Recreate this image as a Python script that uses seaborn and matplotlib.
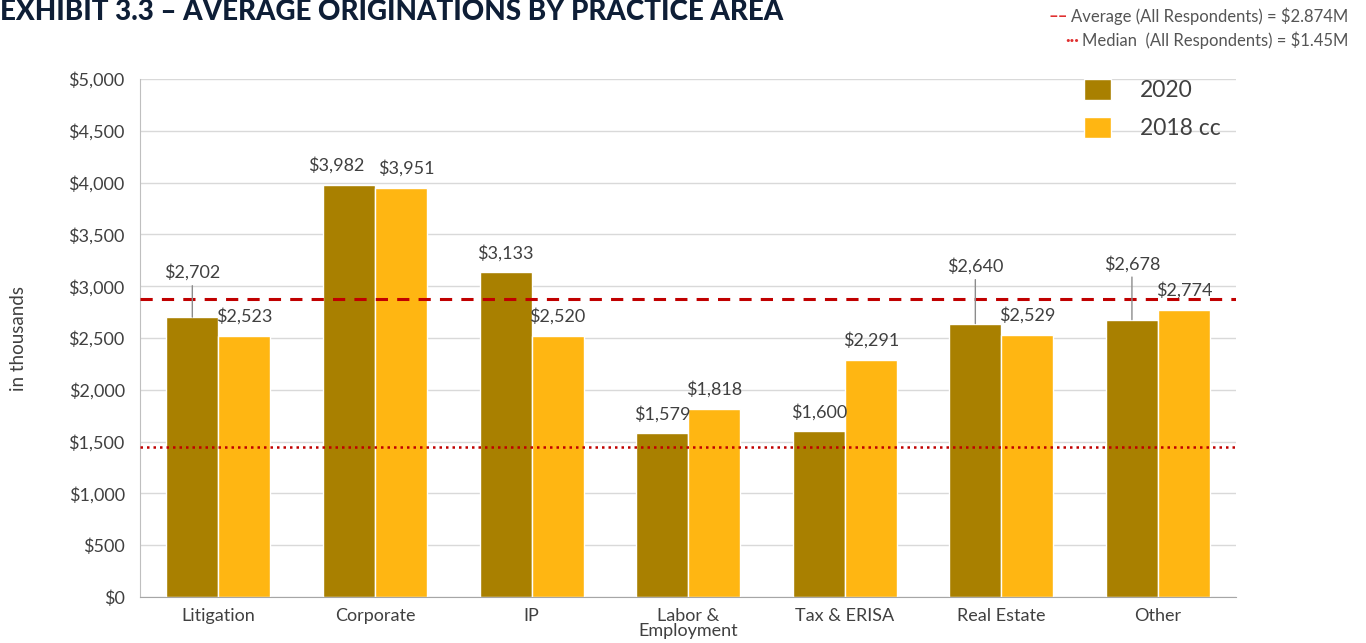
import pandas as pd
import matplotlib.pyplot as plt
import seaborn as sns

# data
areas = ["Litigation", "Corporate", "IP", "Labor &\nEmployment", "Tax & ERISA", "Real Estate", "Other"]
vals_2020 = [2702, 3982, 3133, 1579, 1600, 2640, 2678]
vals_2018 = [2523, 3951, 2520, 1818, 2291, 2529, 2774]
years = ["2020", "2018 cc"]
avg_all = 2874
median_all = 1450
yticks = [0, 500, 1000, 1500, 2000, 2500, 3000, 3500, 4000, 4500, 5000]

# label nudges (series, index) -> (dx, dy) in points; raised ones get a leader line
nudges = {(0, 0): (0, 26), (0, 5): (0, 35), (0, 6): (0, 34),
          (0, 1): (-9, 8), (1, 1): (4, 8)}
leaders = {(0, 0), (0, 5), (0, 6)}

df = pd.DataFrame({
    "area": areas * 2,
    "value": vals_2020 + vals_2018,
    "year": [years[0]] * len(areas) + [years[1]] * len(areas),
})

sns.set_style("white")
plt.rcParams["font.family"] = ["Lato", "DejaVu Sans"]

txt = "#404040"
red = "#C00000"
fig = plt.figure(figsize=(13.66, 6.43), dpi=100)
ax = fig.add_axes([0.1025, 0.0715, 0.8025, 0.8055])

sns.barplot(data=df, x="area", y="value", hue="year", hue_order=years,
            palette=["#A98000", "#FFB612"], saturation=1, width=0.664,
            ax=ax, legend=True)

ax.set_ylim(0, 5000)
ax.set_xlim(-0.5, len(areas) - 0.5)
ax.set_yticks(yticks)
ax.set_yticklabels([f"${v:,}" for v in yticks], fontsize=13, color=txt)
ax.set_xticks(range(len(areas)))
ax.set_xticklabels(areas, fontsize=13, color=txt, linespacing=0.95)
ax.set_xticks([i - 0.5 for i in range(len(areas) + 1)], minor=True)
ax.tick_params(axis="x", which="major", length=0, pad=8)
ax.tick_params(axis="x", which="minor", length=6, color="#A6A6A6", width=1)
ax.tick_params(axis="y", length=5, color="#BFBFBF", pad=6)
ax.set_xlabel("")
ax.set_ylabel("in thousands", fontsize=13.5, color=txt, labelpad=30)
ax.yaxis.grid(True, color="#D9D9D9", lw=1)
ax.set_axisbelow(True)
for s in ["top", "right"]:
    ax.spines[s].set_visible(False)
ax.spines["left"].set_color("#BFBFBF")
ax.spines["bottom"].set_color("#A6A6A6")

# reference lines
ax.axhline(avg_all, color=red, ls=(0, (4, 3)), lw=2.2, zorder=3)
ax.axhline(median_all, color=red, ls=(0, (1, 1.6)), lw=1.8, zorder=3)

# bar labels
for ci, cont in enumerate(ax.containers):
    for i, bar in enumerate(cont):
        x = bar.get_x() + bar.get_width() / 2
        h = bar.get_height()
        dx, dy = nudges.get((ci, i), (0, 8))
        arrow = None
        if (ci, i) in leaders:
            arrow = dict(arrowstyle="-", color="#8C8C8C", lw=1, shrinkA=1, shrinkB=0)
        ax.annotate(f"${h:,.0f}", (x, h), xytext=(dx, dy),
                    textcoords="offset points", ha="center", va="bottom",
                    fontsize=13, color=txt, arrowprops=arrow)

handles, labels = ax.get_legend_handles_labels()
ax.legend(handles, labels, loc="upper left", bbox_to_anchor=(0.842, 1.04),
          frameon=False, fontsize=16.5, handlelength=1.2, handleheight=1.05,
          handletextpad=1.25, labelspacing=0.68, labelcolor=txt)

fig.text(0.0, 0.981, "EXHIBIT 3.3 \u2013 AVERAGE ORIGINATIONS BY PRACTICE AREA",
         fontsize=20, fontweight="black", color="#0E1E36", va="center", ha="left")

# reference line key, top right
fig.canvas.draw()
r = fig.canvas.get_renderer()
for y, label, mark in [(0.975, "Average (All Respondents) = $2.874M", "\u2013\u2013"),
                       (0.937, "Median  (All Respondents) = $1.45M", "\u00b7\u00b7\u00b7")]:
    t = fig.text(0.987, y, label, fontsize=12, color="#555555", ha="right", va="center")
    bb = t.get_window_extent(r)
    fig.text(bb.x0 / fig.bbox.width - 0.002, y, mark, fontsize=12, color="#E03030",
             ha="right", va="center", fontweight="bold")

fig.savefig("out.png", dpi=100)
